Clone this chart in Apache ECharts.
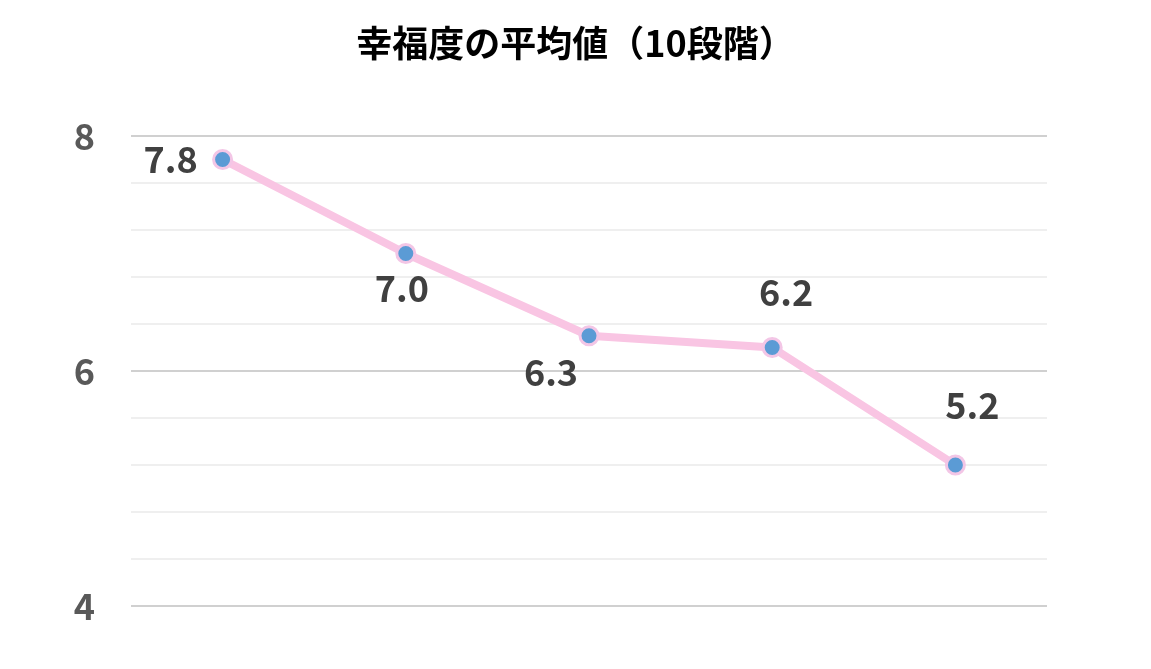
<!DOCTYPE html>
<html><head><meta charset="utf-8">
<script src="https://cdn.jsdelivr.net/npm/echarts@6/dist/echarts.min.js"></script>
<style>html,body{margin:0;padding:0;background:#fff}#c{width:1151px;height:669px}</style>
</head><body><div id="c"></div>
<script>
const categories = ['十分に話\nせている','まあまあ話\nせている','話したいが、あまり\n話せていない','話してはいるが、理解して\nもらえていない気がする','話せていない'];
const values = [7.8, 7.0, 6.3, 6.2, 5.2];
const valueOffsets = [[-52,0],[-4,35],[-38,37],[14,-55],[17,-60]];
const catOffsets = [[-146,63],[-150,100],[-148,101],[-99,-113],[-75,-106]];
const font = '"Noto Sans CJK JP", sans-serif';
const chart = echarts.init(document.getElementById('c'));
chart.setOption({
  animation:false,
  title:{text:'幸福度の平均値（10段階）',left:'center',top:20,textStyle:{fontFamily:font,fontSize:36,fontWeight:'bold',color:'#000'}},
  grid:{left:131,right:104,top:136,bottom:63},
  xAxis:{type:'category',data:categories,boundaryGap:true,axisLine:{show:false},axisTick:{show:false},axisLabel:{show:false}},
  yAxis:{type:'value',min:4,max:8,interval:0.4,
    axisLabel:{margin:36,fontFamily:font,fontSize:36,fontWeight:'bold',color:'#595959',
      formatter:v=>{const r=Math.round(v);return (Math.abs(v-r)<1e-6&&r%2===0)?String(r):'';}},
    splitLine:{lineStyle:{width:2,color:['#d0d0d0','#efefef','#efefef','#efefef','#efefef']}}},
  series:[
    {type:'line',data:values.map((v,i)=>({value:v,label:{offset:valueOffsets[i]}})),
     lineStyle:{color:'#f9c5e3',width:8},symbol:'circle',symbolSize:18,
     itemStyle:{color:'#5b9bd5',borderColor:'#f3c6e6',borderWidth:3},
     label:{show:true,position:'inside',formatter:p=>p.value.toFixed(1),fontFamily:font,fontSize:36,fontWeight:'bold',color:'#404040'},z:3},
    {type:'line',data:values.map((v,i)=>({value:v,label:{offset:catOffsets[i]}})),
     lineStyle:{opacity:0},symbol:'circle',symbolSize:2,itemStyle:{opacity:0},silent:true,
     label:{show:true,position:'inside',align:'left',verticalAlign:'middle',lineHeight:38,formatter:p=>categories[p.dataIndex],fontFamily:font,fontSize:26,fontWeight:'bold',color:'#000'},z:4}
  ]
});
</script></body></html>
